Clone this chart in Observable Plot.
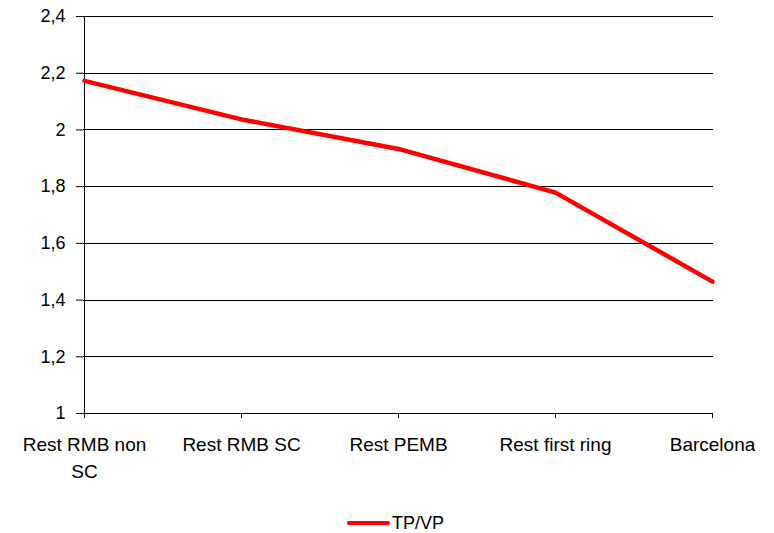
<!DOCTYPE html>
<html>
<head>
<meta charset="utf-8">
<script src="https://cdn.jsdelivr.net/npm/d3@7"></script>
<script src="https://cdn.jsdelivr.net/npm/@observablehq/plot@0.6"></script>
<style>
  html, body { margin: 0; padding: 0; background: #fff; }
  body { width: 774px; height: 533px; overflow: hidden; font-family: "Liberation Sans", Arial, sans-serif; color: #000; }
  #legend { position: relative; width: 774px; height: 43px; }
  #legend .swatch { position: absolute; left: 347px; top: 31px; width: 43px; height: 4px; background: #ff0000; border-radius: 2px; }
  #legend .label { position: absolute; left: 392px; top: 24px; font-size: 18px; line-height: 18px; }
</style>
</head>
<body>
<div id="chart"></div>
<div id="legend"><div class="swatch"></div><div class="label">TP/VP</div></div>
<script>
const categories = ["Rest RMB non SC", "Rest RMB SC", "Rest PEMB", "Rest first ring", "Barcelona"];
const xTickLabels = ["Rest RMB non\nSC", "Rest RMB SC", "Rest PEMB", "Rest first ring", "Barcelona"];
const values = [2.173, 2.037, 1.933, 1.779, 1.465];
const seriesName = "TP/VP";
const yTicks = [1, 1.2, 1.4, 1.6, 1.8, 2, 2.2, 2.4];
const yTickLabels = ["1", "1,2", "1,4", "1,6", "1,8", "2", "2,2", "2,4"];

const data = categories.map((c, i) => ({category: c, value: values[i], series: seriesName}));

const chart = Plot.plot({
  width: 774,
  height: 490,
  marginTop: 16,
  marginLeft: 83,
  marginRight: 61,
  marginBottom: 77,
  style: {fontFamily: "Liberation Sans, Arial, sans-serif", color: "#000", background: "#fff"},
  x: {type: "point", domain: categories, padding: 0},
  y: {domain: [1, 2.4]},
  marks: [
    Plot.ruleY(yTicks, {stroke: "#000", strokeWidth: 1, shapeRendering: "crispEdges"}),
    Plot.ruleX([categories[0]], {stroke: "#000", strokeWidth: 1, shapeRendering: "crispEdges"}),
    Plot.axisY({
      ticks: yTicks,
      tickSize: 7,
      tickPadding: 11,
      fontSize: 18,
      tickFormat: d => yTickLabels[yTicks.indexOf(d)],
      label: null,
      strokeOpacity: 1
    }),
    Plot.axisX({
      ticks: categories,
      tickSize: 5,
      tickPadding: 14,
      fontSize: 19,
      lineHeight: 1.4,
      tickFormat: d => xTickLabels[categories.indexOf(d)],
      label: null,
      strokeOpacity: 1
    }),
    Plot.line(data, {x: "category", y: "value", stroke: "#ff0000", strokeWidth: 4.5, strokeLinejoin: "round"})
  ]
});
document.getElementById("chart").appendChild(chart);
</script>
</body>
</html>
